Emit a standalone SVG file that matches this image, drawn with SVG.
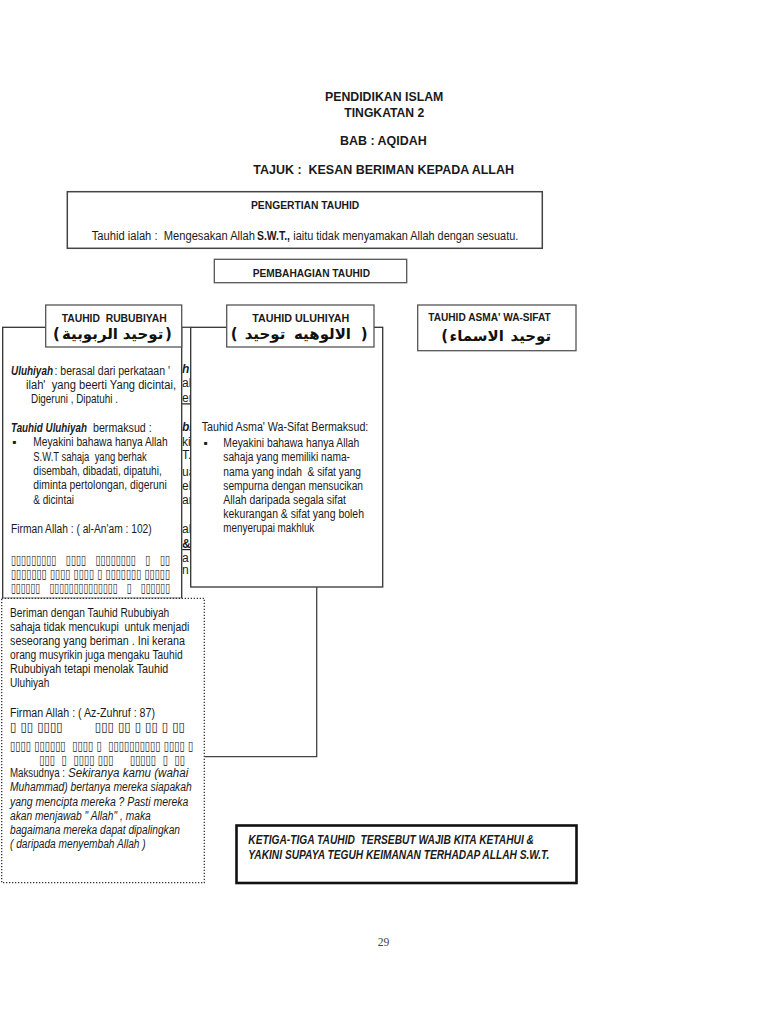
<svg xmlns="http://www.w3.org/2000/svg" width="768" height="1024" viewBox="0 0 768 1024">
<style>
.t{font-family:"Liberation Sans Narrow","Liberation Sans",Arial,sans-serif;font-size:12px;fill:#1a1a1a}
.h{font-size:11.5px;font-weight:bold}
.ti{font-size:12.5px;font-weight:bold}
.b{font-weight:bold}
.i{font-style:italic}
.bi{font-weight:bold;font-style:italic}
.ar{font-family:"DejaVu Sans",sans-serif;font-weight:bold;font-size:15px;fill:#111;text-anchor:middle}
.tofu{font-family:"DejaVu Sans",sans-serif;font-size:13px;font-weight:bold;fill:#111}
.box{fill:#fff;stroke:#333;stroke-width:1.3}
.hbox{fill:#fff;stroke:#555;stroke-width:1.3}
.dot{fill:#fff;stroke:#333;stroke-width:1.3;stroke-dasharray:1.3 1.7}
.conn{fill:none;stroke:#444;stroke-width:1.3}
</style>
<defs>
<clipPath id="gap"><rect x="182.3" y="350" width="8" height="245"/></clipPath>
</defs>
<rect width="768" height="1024" fill="#fff"/>

<g id="title" class="t">
<text class="ti" x="325" y="101" textLength="118.3" lengthAdjust="spacingAndGlyphs">PENDIDIKAN ISLAM</text>
<text class="ti" x="344.3" y="116.8" textLength="80" lengthAdjust="spacingAndGlyphs">TINGKATAN 2</text>
<text class="ti" x="340" y="144.5" textLength="86.7" lengthAdjust="spacingAndGlyphs">BAB : AQIDAH</text>
<text class="ti" x="253.3" y="173.8" textLength="260.7" lengthAdjust="spacingAndGlyphs" xml:space="preserve">TAJUK :  KESAN BERIMAN KEPADA ALLAH</text>
</g>

<g id="pengertian">
<rect x="67.3" y="191.7" width="475" height="56.6" fill="#fff" stroke="#444" stroke-width="1.5"/>
<text class="t h" x="251" y="209" textLength="108.3" lengthAdjust="spacingAndGlyphs">PENGERTIAN TAUHID</text>
<text class="t" x="91.7" y="239.5" textLength="163.3" lengthAdjust="spacingAndGlyphs" xml:space="preserve">Tauhid ialah :  Mengesakan Allah</text>
<text class="t b" x="257" y="239.5" textLength="33" lengthAdjust="spacingAndGlyphs">S.W.T.,</text>
<text class="t" x="293.3" y="239.5" textLength="225" lengthAdjust="spacingAndGlyphs">iaitu tidak menyamakan Allah dengan sesuatu.</text>
</g>

<g id="pembahagian">
<rect x="214.3" y="259.3" width="192.4" height="23.4" fill="#fff" stroke="#555" stroke-width="1.3"/>
<text class="t h" x="252.7" y="276.5" textLength="117.3" lengthAdjust="spacingAndGlyphs">PEMBAHAGIAN TAUHID</text>
</g>

<g id="asma-box">
<rect class="box" x="190.7" y="327.3" width="192" height="259.7"/>
<text class="t" x="201.7" y="431.3" textLength="166.6" lengthAdjust="spacingAndGlyphs">Tauhid Asma' Wa-Sifat Bermaksud:</text>
<text class="t" x="203.3" y="447.3">▪</text>
<text class="t" x="223.3" y="447.3" textLength="136" lengthAdjust="spacingAndGlyphs">Meyakini bahawa hanya Allah</text>
<text class="t" x="223.3" y="461.3" textLength="126.7" lengthAdjust="spacingAndGlyphs">sahaja yang memiliki nama-</text>
<text class="t" x="223.3" y="475.7" textLength="137.7" lengthAdjust="spacingAndGlyphs" xml:space="preserve">nama yang indah  &amp; sifat yang</text>
<text class="t" x="223.3" y="489.7" textLength="139.7" lengthAdjust="spacingAndGlyphs">sempurna dengan mensucikan</text>
<text class="t" x="223.3" y="504" textLength="122.7" lengthAdjust="spacingAndGlyphs">Allah daripada segala sifat</text>
<text class="t" x="223.3" y="518" textLength="140.7" lengthAdjust="spacingAndGlyphs">kekurangan &amp; sifat yang boleh</text>
<text class="t" x="223.3" y="532.3" textLength="91" lengthAdjust="spacingAndGlyphs">menyerupai makhluk</text>
</g>

<g id="rububiyah-hidden" class="t" clip-path="url(#gap)">
<text class="bi" x="182" y="372.7">h</text>
<text x="182" y="387.3">al</text>
<text x="182" y="402.3" text-decoration="underline">em</text>
<text class="bi" x="182" y="431.3">bi</text>
<text x="182" y="445.7">ki</text>
<text x="182" y="459">T. y</text>
<text x="182" y="475.7">ua</text>
<text x="182" y="489.7">eli</text>
<text x="182" y="504">ar</text>
<text x="182" y="533.3">ah</text>
<text class="b" x="182" y="548" text-decoration="underline">&amp;</text>
<text x="182" y="562.3">a</text>
<text x="182" y="574">n</text>
</g>

<g id="uluhiyah-box">
<rect class="box" x="2.7" y="327.3" width="179" height="271"/>
<text class="t bi" x="11" y="374.7" textLength="42" lengthAdjust="spacingAndGlyphs">Uluhiyah</text>
<text class="t" x="54.5" y="374.7" textLength="115.5" lengthAdjust="spacingAndGlyphs">: berasal dari perkataan '</text>
<text class="t" x="26" y="389" textLength="150" lengthAdjust="spacingAndGlyphs" xml:space="preserve">ilah'  yang beerti Yang dicintai,</text>
<text class="t" x="31" y="403.3" textLength="87" lengthAdjust="spacingAndGlyphs">Digeruni , Dipatuhi .</text>
<text class="t bi" x="11" y="432" textLength="76" lengthAdjust="spacingAndGlyphs">Tauhid Uluhiyah</text>
<text class="t" x="93" y="432" textLength="58.7" lengthAdjust="spacingAndGlyphs">bermaksud :</text>
<text class="t" x="12" y="446.3">▪</text>
<text class="t" x="33.3" y="446.3" textLength="134.4" lengthAdjust="spacingAndGlyphs">Meyakini bahawa hanya Allah</text>
<text class="t" x="33.3" y="460.6" textLength="113.4" lengthAdjust="spacingAndGlyphs" xml:space="preserve">S.W.T sahaja  yang berhak</text>
<text class="t" x="33.3" y="475" textLength="128.4" lengthAdjust="spacingAndGlyphs">disembah, dibadati, dipatuhi,</text>
<text class="t" x="33.3" y="489.3" textLength="133.4" lengthAdjust="spacingAndGlyphs">diminta pertolongan, digeruni</text>
<text class="t" x="33.3" y="503.6" textLength="40.7" lengthAdjust="spacingAndGlyphs">&amp; dicintai</text>
<text class="t" x="11" y="533" textLength="140.7" lengthAdjust="spacingAndGlyphs">Firman Allah : ( al-An'am : 102)</text>
<text class="tofu" x="11" y="563.5" textLength="159" lengthAdjust="spacingAndGlyphs" xml:space="preserve">▯▯▯▯▯▯▯▯▯   ▯▯▯▯   ▯▯▯▯▯▯▯▯   ▯   ▯▯</text>
<text class="tofu" x="11" y="577.5" textLength="159" lengthAdjust="spacingAndGlyphs" xml:space="preserve">▯▯▯▯▯▯▯ ▯▯▯▯ ▯▯▯▯ ▯ ▯▯▯▯▯▯▯ ▯▯▯▯▯</text>
<text class="tofu" x="11" y="591.5" textLength="159" lengthAdjust="spacingAndGlyphs" xml:space="preserve">▯▯▯▯▯▯   ▯▯▯▯▯▯▯▯▯▯▯▯▯▯   ▯   ▯▯▯▯▯▯</text>
</g>

<g id="connectors">
<path class="conn" d="M181.7 327.3 H190.7"/>
<path class="conn" d="M316.7 587 V756.7 H204.3"/>
</g>

<g id="rububiyah-header">
<rect class="hbox" x="45.7" y="305" width="136" height="42"/>
<text class="t h" x="61.7" y="321.8" textLength="105" lengthAdjust="spacingAndGlyphs" xml:space="preserve">TAUHID  RUBUBIYAH</text>
<text class="ar" x="56.5" y="338.5">(</text>
<text class="ar" x="90" y="338.5">الربوبية</text>
<text class="ar" x="143" y="338.5">توحيد</text>
<text class="ar" x="168.5" y="338.5">)</text>
</g>

<g id="uluhiyah-header">
<rect class="hbox" x="226.7" y="305" width="147.3" height="42"/>
<text class="t h" x="252.3" y="321.8" textLength="97" lengthAdjust="spacingAndGlyphs">TAUHID ULUHIYAH</text>
<text class="ar" x="234.2" y="338.5">(</text>
<text class="ar" x="265" y="338.5">توحيد</text>
<text class="ar" x="322.5" y="338.5">الالوهيه</text>
<text class="ar" x="364.2" y="338.5">)</text>
</g>

<g id="asma-header">
<rect class="hbox" x="417.7" y="305" width="158.3" height="45.7"/>
<text class="t h" x="428.3" y="320.8" textLength="122.4" lengthAdjust="spacingAndGlyphs">TAUHID ASMA' WA-SIFAT</text>
<text class="ar" x="444.7" y="341">(</text>
<text class="ar" x="476.7" y="341">الاسماء</text>
<text class="ar" x="530.8" y="341">توحيد</text>
</g>

<g id="note-box">
<rect class="dot" x="1.7" y="598.3" width="202.6" height="284.4"/>
<text class="t" x="10" y="616.7" textLength="159.3" lengthAdjust="spacingAndGlyphs">Beriman dengan Tauhid Rububiyah</text>
<text class="t" x="10" y="630.7" textLength="179.3" lengthAdjust="spacingAndGlyphs" xml:space="preserve">sahaja tidak mencukupi  untuk menjadi</text>
<text class="t" x="10" y="644.7" textLength="175" lengthAdjust="spacingAndGlyphs">seseorang yang beriman . Ini kerana</text>
<text class="t" x="10" y="659" textLength="172.7" lengthAdjust="spacingAndGlyphs">orang musyrikin juga mengaku Tauhid</text>
<text class="t" x="10" y="673.3" textLength="158.3" lengthAdjust="spacingAndGlyphs">Rububiyah tetapi menolak Tauhid</text>
<text class="t" x="10" y="687.3" textLength="39.3" lengthAdjust="spacingAndGlyphs">Uluhiyah</text>
<text class="t" x="10" y="716.7" textLength="145" lengthAdjust="spacingAndGlyphs">Firman Allah : ( Az-Zuhruf : 87)</text>
<text class="tofu" x="10" y="730.5" textLength="175" lengthAdjust="spacingAndGlyphs" xml:space="preserve">▯ ▯▯ ▯▯▯▯        ▯▯▯ ▯▯ ▯ ▯▯ ▯ ▯▯</text>
<text class="tofu" x="10" y="749.5" textLength="183.3" lengthAdjust="spacingAndGlyphs" xml:space="preserve">▯▯▯▯ ▯▯▯▯▯▯  ▯▯▯▯ ▯  ▯▯▯▯▯▯▯▯▯▯ ▯▯▯▯ ▯</text>
<text class="tofu" x="39.3" y="763.9" textLength="145.7" lengthAdjust="spacingAndGlyphs" xml:space="preserve">▯▯▯  ▯  ▯▯▯▯ ▯▯▯     ▯▯▯▯▯  ▯  ▯▯</text>
<text class="t" x="10" y="777.3" textLength="55" lengthAdjust="spacingAndGlyphs">Maksudnya :</text>
<text class="t i" x="68" y="777.3" textLength="120.3" lengthAdjust="spacingAndGlyphs">Sekiranya kamu (wahai</text>
<text class="t i" x="10" y="791.3" textLength="181.7" lengthAdjust="spacingAndGlyphs">Muhammad) bertanya mereka siapakah</text>
<text class="t i" x="10" y="805.7" textLength="178.3" lengthAdjust="spacingAndGlyphs">yang mencipta mereka ? Pasti mereka</text>
<text class="t i" x="10" y="820" textLength="140.7" lengthAdjust="spacingAndGlyphs">akan menjawab " Allah" , maka</text>
<text class="t i" x="10" y="834" textLength="170" lengthAdjust="spacingAndGlyphs">bagaimana mereka dapat dipalingkan</text>
<text class="t i" x="10" y="848" textLength="135.7" lengthAdjust="spacingAndGlyphs">( daripada menyembah Allah )</text>
</g>

<g id="conclusion">
<rect x="236.5" y="825.5" width="340" height="57.5" fill="#fff" stroke="#111" stroke-width="2.6"/>
<text class="t bi" x="248.3" y="844.3" font-size="11.5" textLength="285.7" lengthAdjust="spacingAndGlyphs" xml:space="preserve">KETIGA-TIGA TAUHID  TERSEBUT WAJIB KITA KETAHUI &amp;</text>
<text class="t bi" x="248.3" y="859.3" font-size="11.5" textLength="301" lengthAdjust="spacingAndGlyphs">YAKINI SUPAYA TEGUH KEIMANAN TERHADAP ALLAH S.W.T.</text>
</g>

<g id="page-number">
<text x="377.7" y="945.5" font-family="'Liberation Serif',serif" font-size="12" fill="#444" textLength="11.6" lengthAdjust="spacingAndGlyphs">29</text>
</g>
</svg>
